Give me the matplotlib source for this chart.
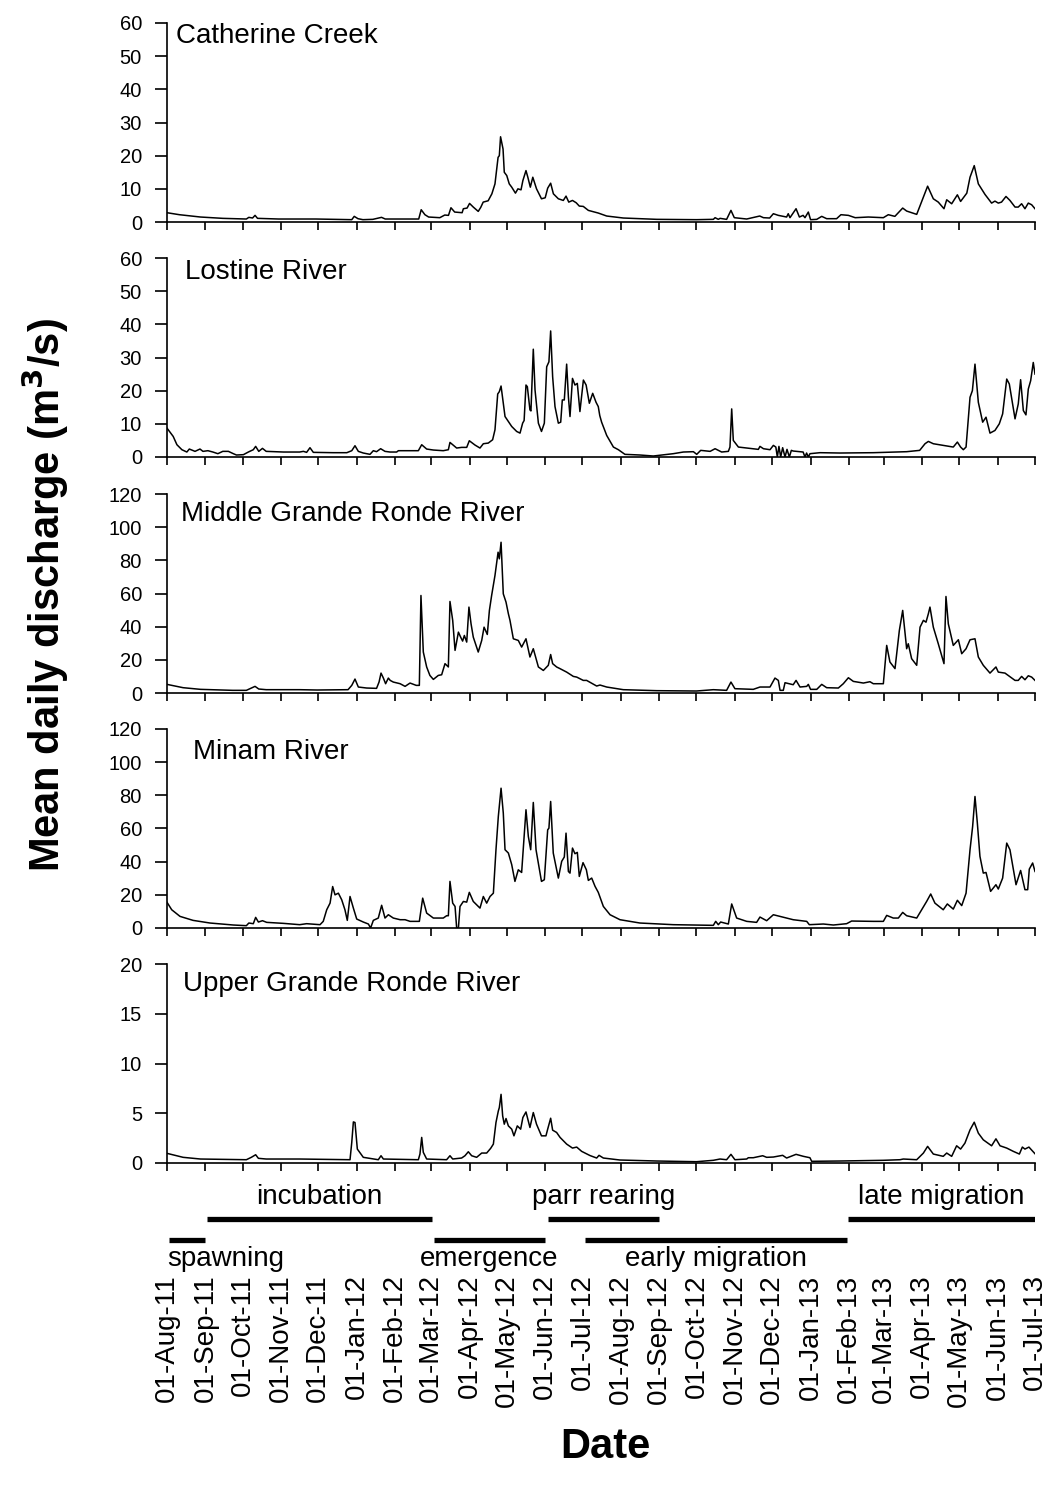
import matplotlib
matplotlib.use('Agg')
import matplotlib.pyplot as plt
import pandas as pd

plt.rcParams['font.family'] = ['Liberation Sans', 'DejaVu Sans']

# day offsets from 01-Aug-2011, mean daily discharge (m3/s)
catherine = [(0,2.8),(10,2.2),(27,1.5),(45,1.1),(64,0.9),(66,1.4),(69,1.2),(71,2.0),(73,1.1),(90,0.9),(120,0.9),
    (135,0.8),(149,0.7),(151,1.7),(154,1.0),(158,0.7),(166,0.8),(173,1.4),(176,0.9),(203,0.9),(205,3.7),(208,2.2),
    (211,1.5),(220,1.3),(224,2.1),(227,2.0),(229,4.3),(232,3.0),(238,2.8),(239,4.0),(242,4.2),(244,5.6),(247,4.5),
    (251,3.2),(253,4.4),(255,6.0),(259,6.4),(262,8.5),(264.5,11.5),(267,19.5),(268,20),(269,25.7),(271,22),(272,15),
    (274,14),(276,11.5),(278,10.5),(281,8.7),(283,10),(285.5,9.7),(287,12.5),(289.5,15.5),(291,13.5),(293,10.5),
    (295,13.5),(298,10),(302,7),(305,7.3),(307,10.2),(309.4,11.7),(311.6,8.5),(315.6,7),(319.6,6.5),(321.8,7.8),
    (324,6),(327,6.5),(330,5.8),(332.5,4.8),(335.7,4.7),(339.8,3.5),(347.8,2.7),(354.6,1.8),(368,1.2),(395,0.8),
    (427,0.7),(440.6,0.8),(442,1.3),(444.6,0.8),(446,1.1),(451.3,0.8),(454.8,3.5),(457.5,1.3),(467.5,0.9),(478,1.8),
    (481,1.3),(486,1.2),(489,2.5),(493,2.0),(499.7,1.5),(501,2.5),(502.4,1.3),(507.3,4.0),(510,1.5),(513,2.0),
    (514.5,1.3),(517.2,3.0),(519,0.7),(524,0.8),(528,1.7),(532,1.0),(540,1.0),(543.5,2.2),(549.5,2.0),(555,1.3),
    (565.6,1.5),(577.7,1.3),(581.7,2.2),(587,1.7),(593.3,4.2),(596.5,3.3),(604.6,2.3),(610,7.5),(613.4,10.8),(618,7),
    (622,6),(626.6,4),(628.8,6.7),(632.8,5.5),(637.4,8.2),(640,6.2),(645,8.7),(647.6,13.5),(651,17),(654.3,11.5),
    (659.7,8.3),(665,5.7),(667.7,6.3),(670.4,5.7),(673,6.0),(676.6,7.7),(679.8,6.5),(683.9,4.5),(686.5,4.5),
    (689.2,5.5),(691.9,4.0),(694.6,5.7),(697.3,5.2),(700,4.0)]

lostine = [(0,8.7),(2,7.7),(5,6.2),(8,3.7),(12,2.2),(16,1.5),(18,2.4),(22.6,1.7),(26.6,2.4),(29,1.7),(33,1.9),(37,1.5),
    (41,1.0),(45,1.7),(49.5,1.7),(53.5,1.0),(56,0.6),(61.6,0.7),(65.6,1.5),(69.6,2.2),(71.5,3.2),(74,1.7),(77,2.6),
    (80,1.7),(94,1.5),(107,1.5),(110,1.7),(112.6,1.4),(115.3,2.8),(118,1.4),(134,1.3),(145,1.3),(149,1.9),(151.6,3.4),
    (154.3,1.7),(158.3,1.2),(163.7,0.8),(166.4,1.9),(169,1.6),(172.3,2.5),(175.8,1.7),(179.8,1.5),(185.2,1.5),
    (186.6,1.9),(202.7,1.9),(205.4,3.7),(209.4,2.4),(214.8,2.1),(222.8,1.9),(226.9,2.2),(228.2,4.4),(233.6,2.7),
    (237.6,2.9),(241.7,2.9),(243.8,4.9),(248.4,3.6),(252.4,2.7),(255.1,4.0),(259.1,4.2),(262.6,5.2),(264.5,8.2),
    (266.7,19),(268,19.7),(269.4,21.4),(271.2,16.2),(272.6,12.2),(275.3,10.7),(278,9.2),(282,7.7),(284.7,7.2),
    (286.8,10.2),(288,11),(289.5,21.7),(290.6,21.2),(292.7,14.2),(293.5,13.9),(295.4,32.5),(296.8,20.2),(299.5,10.2),
    (302,7.7),(304.3,10.2),(306.2,27.2),(308,28.7),(309.4,38),(311,24.2),(312.9,15.2),(315.6,10.2),(317.5,10.5),
    (318.8,17.2),(320.4,17.2),(322.3,28),(323.7,18.2),(325,12.2),(327,23.7),(329,21.7),(330.9,22.2),(333,13.7),
    (335.8,23.2),(338,21.7),(340.6,16.2),(343.3,19.2),(346,16.5),(347.8,15.2),(349,12.5),(350.5,10.5),(354.6,6.5),
    (360,3),(364,2.2),(369.3,0.8),(381.4,0.6),(392.2,0.3),(408.3,1.0),(416.4,1.5),(424.5,1.6),(427.2,0.8),(430.4,2.0),
    (438,1.7),(442,2.5),(447.3,1.5),(452.7,1.7),(454,3.0),(455.4,14.5),(456.7,5.0),(460.8,3.0),(467.5,2.7),
    (476.9,2.3),(478.2,3.2),(481,2.5),(486.3,2.2),(489,3.5),(491,3.0),(492.2,0),(493.5,3.2),(494.9,0),(496.5,2.8),
    (498.4,0),(500,2.3),(501.9,0),(503.5,2.0),(505,1.8),(513,1.5),(514.5,0),(515.8,1.2),(517.2,0),(518.5,1.0),
    (526.6,1.3),(542.7,1.2),(569.6,1.3),(596.5,1.6),(607,2.0),(611.3,4.0),(614,4.7),(618,4.0),(634.1,3.0),
    (637.4,4.5),(640,3.0),(642.2,2.2),(644.4,3.0),(647.6,18),(649.5,20),(651.6,28),(654.3,16.5),(657.8,10.5),
    (660.5,12),(663.7,7.2),(667.7,8),(671.2,10),(673.9,13),(677.2,23.5),(679.3,22),(683.9,11.5),(686.5,16),
    (688.4,23.3),(690.6,14),(692.7,12.7),(694.6,20.5),(696.5,23),(698.6,28.5),(700,25)]

middle_gr = [(0,5.2),(13,3.2),(27,2.2),(53,1.6),(64,1.6),(67,2.6),(71,4),(74,2.4),(80,2),(107,2),(121,1.8),(146,2),
    (149,4.6),(151.6,8.4),(154.3,3.6),(161,3),(169,2.8),(171,6.6),(172.6,12),(174.5,9),(176.3,5.6),(178.5,9),(180,7.6),
    (182.5,6.6),(188,5.6),(192,4),(196,6),(201,4.6),(203.5,4.6),(204.8,58.8),(206.7,24.7),(209.4,15.7),(212,10.6),
    (214.8,8.2),(218.8,10.6),(221.5,11),(224.2,17.7),(226.9,15.7),(228.2,55.2),(230.4,43.8),(232.3,25.7),(235,36.7),
    (236.8,33.7),(238.4,31.3),(239.8,34.7),(241.7,30.7),(243.5,51.8),(245.2,41.7),(247,33.7),(251,24.7),(253.8,31.7),
    (255.7,39.7),(258.3,35.3),(260,49.8),(261.8,58.8),(264.5,70.9),(267,84.9),(268,80.9),(269.4,90.9),(271.2,59.8),
    (273.4,54.8),(275.3,47.8),(276.6,43.8),(279.3,32.7),(283.3,31.7),(286,27.7),(289.5,32.7),(292.7,21.7),
    (295.4,26.7),(299.5,15.7),(303.5,13.6),(307.5,16.7),(309.4,23.2),(311,17.7),(314.2,15.7),(316.9,14.7),
    (322.3,12.6),(327.7,10),(330.4,9.6),(335.7,7.6),(338.4,7.6),(346.5,4.2),(349.2,4.8),(354.6,3.6),(368,2),
    (395,1.4),(427,1.2),(440.6,2),(451.3,1.6),(454.8,6.6),(458,2.6),(472.8,2.2),(478.2,3.6),(486.3,3.6),(490.3,9),
    (493,7.6),(494.4,1.6),(497,1.6),(498.4,6.2),(505,5),(507.3,7.6),(510.5,3.6),(515.9,4),(517.2,5.2),(519,2.2),
    (524,2.2),(528,5.2),(532,3.2),(541.4,3),(545.4,5.6),(549.5,9.2),(553.5,7),(561.6,6),(566.9,6.8),(569.6,5.6),
    (577.7,5.6),(580.4,28.7),(583,18.7),(587.1,14.7),(590.6,37.7),(593.3,49.8),(596.5,26.7),(597.8,29.7),
    (600.5,20.7),(604.6,16.7),(607.3,39.7),(610,43.8),(612.1,42.7),(614,47.8),(615.3,51.8),(618,39.7),(622,29.7),
    (626.6,17.7),(628.2,58.2),(630.1,41.7),(634.1,28.7),(638.2,32.1),(640.9,23.7),(644.4,26.7),(647.6,32.1),
    (651.6,32.7),(654.3,21.7),(658.3,16.7),(663.7,12),(668.5,15.7),(670.4,12.6),(675.8,12),(683.9,7.6),(686.5,7.6),
    (689.2,10),(691.9,8),(694.6,10.4),(697.3,9.6),(700,7.6)]

minam = [(0,15.5),(3.8,11),(10.5,7),(21,4.6),(34.7,3),(53.5,1.8),(64,1.4),(66,3),(69.6,2.6),(71.5,6.4),(73.7,3.6),
    (77,4.4),(80.4,3.4),(93.8,2.8),(107,2),(112.6,2.6),(123.4,2),(126,4),(128.8,11),(131.5,15),(133.6,25),(135.5,20),
    (138.2,21),(140.9,17),(143.5,11),(145.4,4.6),(147.6,19),(150.3,12),(153,5.4),(158.3,3.6),(162.4,2.4),(164.2,0),
    (166.4,4.6),(170.4,6),(173.1,13.7),(175.8,6),(178.5,8),(182.5,6),(188,5),(192,5),(196,4),(203.5,4),(206.2,18),
    (209.4,9),(214.8,6),(222.8,6),(225.5,7.4),(226.9,7.4),(228.2,28.1),(230.4,15),(232.3,13),(233.6,0),(235,0),
    (236.3,13),(239,16),(241.7,15.6),(243.8,21.5),(247,16),(252.4,12),(255.1,19),(257.8,15),(260.5,19),(263.2,21),
    (265.3,47.2),(267.2,67.3),(269.4,84.3),(271.2,69.3),(272.6,47.2),(275.3,45.2),(278,38.2),(280.6,28.1),
    (283.3,35.1),(286,33.5),(289.5,71.3),(291.4,55.2),(293.3,47.2),(295.4,75.7),(297.6,47.2),(302,28.1),(304.3,29.1),
    (307,59.2),(308,60.2),(309.4,76.3),(311.5,45.2),(315.6,30.1),(318.3,40.2),(320.4,42.8),(321.8,57.2),(323.7,34.1),
    (325,33.1),(327,48.2),(329,44.8),(330.9,45.6),(332.5,31.1),(335.5,39.4),(338.2,35.1),(339.8,28.7),(342.5,30.1),
    (345.2,25.1),(347.8,21.5),(351.9,13),(357.3,8),(365.3,5),(381.4,3),(408.3,2),(440.6,1.6),(442.5,4),(444.6,2),
    (446.5,3.6),(452.7,2.4),(455.4,14.5),(459.4,6),(467.5,4),(475.5,3.4),(478.2,6.6),(483.6,4.4),(489,8),(494.4,7),
    (505,5),(515.9,4),(518,2),(529.3,2.4),(537.4,1.8),(548.1,2.6),(552.1,4.2),(569.6,4),(577.7,4),(580.4,7.6),
    (585.7,6),(589.8,6),(593.3,9.4),(596.5,7.4),(604.6,6),(612.6,16),(615.9,20.5),(619.3,15),(626,11),(629.3,14.5),
    (634.1,11.4),(637.4,16.7),(640.9,13.5),(644.4,21),(647.6,47.2),(649.7,61.2),(651.6,79.3),(653.5,63.3),
    (655.6,43.2),(658.3,33.1),(660.5,33.5),(664.2,22.1),(668.5,26.1),(670.4,23.5),(673.9,30.1),(677.2,51.2),
    (679.8,47.2),(684.7,26.1),(688.4,34.7),(691.9,23.1),(694.1,23.1),(695.4,35.5),(698.1,39.2),(700,34.1)]

upper_gr = [(0,0.97),(13,0.57),(27,0.4),(64,0.33),(68,0.57),(71.5,0.83),(73.7,0.47),(80,0.4),(107,0.4),(147.6,0.33),
    (149,2.07),(150.3,4.13),(151.6,4.07),(153.5,1.4),(158.3,0.57),(170.4,0.33),(172.6,0.73),(174.5,0.4),(202.7,0.33),
    (204,0.9),(205.4,2.57),(206.7,1.07),(209.4,0.4),(225.5,0.33),(228.2,0.73),(230.4,0.4),(237.6,0.5),(240.3,0.73),
    (243,1.13),(245.7,0.73),(249.7,0.57),(253.8,1.0),(257.8,1.0),(261,1.47),(263.2,1.9),(265.3,4.07),(267.2,5.23),
    (268,5.57),(269.4,6.9),(270.7,4.73),(272,3.9),(273.4,4.47),(275.3,3.73),(278,3.4),(279.8,2.73),(282.5,3.73),
    (285.2,3.4),(287,4.57),(289.5,5.13),(292.7,3.57),(295.4,5.07),(298,3.9),(302,2.73),(305.6,2.73),(307,3.4),
    (309.4,4.5),(311,3.3),(314.2,3.07),(317,2.57),(322.3,1.9),(327,1.5),(330.4,1.6),(334.4,1.17),(341.1,0.75),
    (346.5,0.5),(348.4,0.77),(351.9,0.5),(365.3,0.3),(394.9,0.2),(427,0.13),(440.6,0.27),(446,0.4),(451.3,0.33),
    (454.8,0.87),(458,0.33),(467.5,0.4),(468.8,0.53),(472.8,0.53),(480.4,0.73),(483.6,0.57),(489,0.6),(496.5,0.77),
    (499.7,0.5),(507.3,0.87),(513.2,0.67),(518.5,0.53),(519.9,0.17),(542.7,0.2),(577.7,0.27),(591.1,0.33),
    (593.8,0.4),(604.6,0.33),(610,1.0),(613.4,1.67),(618,0.9),(626,0.67),(628.8,1.0),(632.8,0.67),(636.8,1.73),
    (640,1.4),(643.5,2),(647.6,3.33),(651,4.1),(654.3,3),(658.3,2.33),(665,1.73),(668.5,2.43),(671.8,1.73),
    (677.2,1.5),(682.5,1.17),(687.4,0.9),(689.8,1.6),(691.9,1.4),(695.1,1.6),(700,0.93)]

rivers = ['Catherine Creek', 'Lostine River', 'Middle Grande Ronde River', 'Minam River', 'Upper Grande Ronde River']
series = [catherine, lostine, middle_gr, minam, upper_gr]
y_max = [60, 60, 120, 120, 20]
y_step = [10, 10, 20, 20, 5]

# life stages: name, start day, end day, row (1 = upper, 0 = lower)
stages = [('spawning', 2, 31, 0), ('incubation', 32, 214, 1), ('emergence', 215, 305, 0),
          ('parr rearing', 307, 397, 1), ('early migration', 337, 548, 0), ('late migration', 549, 700, 1)]

months = pd.date_range('2011-08-01', '2013-07-01', freq='MS')
tick_days = (months - months[0]).days
tick_labels = months.strftime('%d-%b-%y')
n_days = tick_days[-1]

W, H = 1053, 1487
fig = plt.figure(figsize=(W / 100, H / 100), dpi=100)

def add_ax(left, top, right, bottom):
    return fig.add_axes([left / W, 1 - bottom / H, (right - left) / W, (bottom - top) / H])

panel_tops = [23, 258, 494, 729, 964]
label_pos = [(176, 36), (185, 272), (181, 514), (193, 752), (183, 984)]

for i in range(5):
    ax = add_ax(167, panel_tops[i], 1035, panel_tops[i] + 199)
    d, q = zip(*series[i])
    ax.plot(d, q, color='black', lw=1.1)
    ax.set_xlim(0, n_days)
    ax.set_ylim(0, y_max[i])
    ax.set_yticks(range(0, y_max[i] + 1, y_step[i]))
    ax.set_xticks(tick_days)
    ax.set_xticklabels([])
    for s in ['top', 'right']:
        ax.spines[s].set_visible(False)
    for s in ['left', 'bottom']:
        ax.spines[s].set_linewidth(1.2)
    ax.tick_params(axis='y', direction='out', length=9, width=1.2, labelsize=14.5, pad=9)
    ax.tick_params(axis='x', direction='out', length=6, width=1.2)
    lx, ly = label_pos[i]
    fig.text(lx / W, 1 - ly / H, rivers[i], fontsize=20, ha='left', va='center')

# life stage bars and date labels
sax = add_ax(167, 1175, 1035, 1280)
sax.set_xlim(0, n_days)
sax.set_ylim(0, 1)
for s in sax.spines.values():
    s.set_visible(False)
sax.set_yticks([])
sax.set_xticks(tick_days)
sax.set_xticklabels(tick_labels, rotation=90, fontsize=20)
sax.tick_params(axis='x', length=0, pad=-4)
bar_y = {1: 0.58, 0: 0.38}
text_y = {1: 0.79, 0: 0.20}
for name, start, end, row in stages:
    sax.plot([start, end], [bar_y[row]] * 2, color='black', lw=3.8, solid_capstyle='butt')
    if name == 'spawning':
        sax.text(0, text_y[row], name, fontsize=20, ha='left', va='center')
    else:
        sax.text((start + end) / 2, text_y[row], name, fontsize=20, ha='center', va='center')

fig.text(45 / W, 1 - 595 / H, 'Mean daily discharge (m$^\\mathbf{3}$/s)', rotation=90,
         fontsize=30, fontweight='bold', ha='center', va='center')
fig.text(605 / W, 1 - 1447 / H, 'Date', fontsize=30, fontweight='bold', ha='center', va='center')

fig.savefig('out.png', dpi=100)
